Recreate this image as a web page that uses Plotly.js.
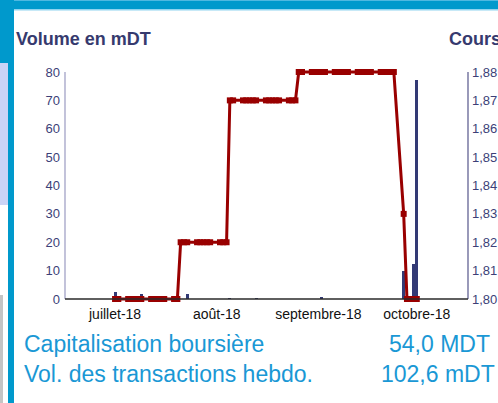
<!DOCTYPE html>
<html><head><meta charset="utf-8">
<script src="https://cdn.plot.ly/plotly-3.0.1.min.js"></script>
<style>html,body{margin:0;padding:0;background:#fff;overflow:hidden}#chart{width:498px;height:403px}</style>
</head><body><div id="chart"></div>
<script>
// ---- data ----
const tradeDates = [
 '2018-07-05','2018-07-06','2018-07-09','2018-07-10','2018-07-11','2018-07-12','2018-07-13',
 '2018-07-16','2018-07-17','2018-07-18','2018-07-19','2018-07-20','2018-07-23','2018-07-24',
 '2018-07-25','2018-07-26','2018-07-27','2018-07-30','2018-07-31','2018-08-01','2018-08-02',
 '2018-08-03','2018-08-06','2018-08-07','2018-08-08',
 '2018-08-09','2018-08-10','2018-08-13','2018-08-14','2018-08-15','2018-08-16','2018-08-17',
 '2018-08-20','2018-08-21','2018-08-22','2018-08-23','2018-08-24','2018-08-27','2018-08-28','2018-08-29',
 '2018-08-30','2018-08-31','2018-09-03','2018-09-04','2018-09-05','2018-09-06','2018-09-07',
 '2018-09-10','2018-09-11','2018-09-12','2018-09-13','2018-09-14','2018-09-17','2018-09-18',
 '2018-09-19','2018-09-20','2018-09-21','2018-09-24','2018-09-25','2018-09-26','2018-09-27','2018-09-28',
 '2018-10-01','2018-10-02','2018-10-03','2018-10-04','2018-10-05'
];
const priceValues = [
 1.80,1.80,1.80,1.80,1.80,1.80,1.80,
 1.80,1.80,1.80,1.80,1.80,1.80,1.80,
 1.82,1.82,1.82,1.82,1.82,1.82,1.82,
 1.82,1.82,1.82,1.82,
 1.87,1.87,1.87,1.87,1.87,1.87,1.87,
 1.87,1.87,1.87,1.87,1.87,1.87,1.87,1.87,
 1.88,1.88,1.88,1.88,1.88,1.88,1.88,
 1.88,1.88,1.88,1.88,1.88,1.88,1.88,
 1.88,1.88,1.88,1.88,1.88,1.88,1.88,1.88,
 1.83,1.80,1.80,1.80,1.80
];
const volumeDates = ['2018-07-05','2018-07-13','2018-07-27','2018-08-09','2018-08-17','2018-09-06','2018-10-01','2018-10-04','2018-10-05'];
const volumeValues = [2.5,1.7,1.8,0.3,0.3,0.6,10.0,12.5,77.2];
const monthTickDates = ['2018-07-05','2018-08-05','2018-09-05','2018-10-05'];
const monthTickLabels = ['juillet-18','août-18','septembre-18','octobre-18'];
const volumeTicks = [0,10,20,30,40,50,60,70,80];
const priceTicks = [1.80,1.81,1.82,1.83,1.84,1.85,1.86,1.87,1.88];
const leftTitle = 'Volume en mDT';
const rightTitle = 'Cours';
const infoLabels = ['Capitalisation boursière','Vol. des transactions hebdo.'];
const infoValues = ['54,0 MDT','102,6 mDT'];

// ---- layout helpers (pixel -> paper) ----
const PL=65, PR=468, PT=69, PB=302;
const fx = x => (x-PL)/(PR-PL);
const fy = y => (PB-y)/(PB-PT);
const FONT = 'Liberation Sans, Arial, sans-serif';
const NAVY = '#363a6e';
const BLUE_TXT = '#1a98d5';

const traces = [
  {type:'bar', x:volumeDates, y:volumeValues, yaxis:'y', marker:{color:'#333a75', line:{width:0}},
   width:77760000, hoverinfo:'skip'},
  {type:'scatter', mode:'lines+markers', x:tradeDates, y:priceValues, yaxis:'y2',
   line:{color:'#990000', width:3},
   marker:{symbol:'square', size:6, color:'#990000', line:{width:0}},
   cliponaxis:false, hoverinfo:'skip'}
];

const rect = (x0,y0,x1,y1,c) => ({type:'rect', xref:'paper', yref:'paper', x0:fx(x0), x1:fx(x1), y0:fy(y1), y1:fy(y0),
  fillcolor:c, line:{width:0}, layer:'below'});
const hline = (x0,x1,y,c,w) => ({type:'line', xref:'paper', yref:'paper', x0:fx(x0), x1:fx(x1), y0:fy(y), y1:fy(y), line:{color:c,width:w}});
const vline = (x,y0,y1,c,w) => ({type:'line', xref:'paper', yref:'paper', x0:fx(x), x1:fx(x), y0:fy(y0), y1:fy(y1), line:{color:c,width:w}});

const shapes = [
  rect(0,0,498,10,'#0099cc'),
  rect(0,0,498,1,'#4fb8e0'),
  rect(14,9,498,10.5,'#8fd3ef'),
  rect(0,0,14,63,'#0099cc'),
  rect(8,0,14,403,'#0099cc'),
  rect(0,63,8,205,'#cbd4f6'),
  rect(0,295,3,403,'#c4c4c4'),
  vline(65,299,72,'#9a9ac2',1.2),
  vline(468,299,72,'#56568a',1.2),
  hline(65,468,299,'#2a2a2a',1.6)
];

const ann = (text,x,y,xa,size,color,bold) => ({text: bold?('<b>'+text+'</b>'):text, xref:'paper', yref:'paper',
  x:fx(x), y:fy(y), xanchor:xa, yanchor:'middle', showarrow:false, font:{family:FONT,size:size,color:color}});

const annotations = [
  ann(leftTitle,14,38.7,'left',18,NAVY,true),
  ann(rightTitle,447,38.7,'left',18,NAVY,true),
  ann(infoLabels[0],21.5,343.7,'left',23,BLUE_TXT,false),
  ann(infoValues[0],491.5,343.7,'right',23,BLUE_TXT,false),
  ann(infoLabels[1],21.5,373.7,'left',23,BLUE_TXT,false),
  ann(infoValues[1],496.5,373.7,'right',23,BLUE_TXT,false)
];

const layout = {
  width:498, height:403, margin:{l:PL, r:498-PR, t:PT, b:403-PB, pad:0},
  paper_bgcolor:'#ffffff', plot_bgcolor:'rgba(0,0,0,0)',
  separators:', ', showlegend:false, bargap:0,
  font:{family:FONT},
  xaxis:{type:'date', range:['2018-06-19 17:45','2018-10-20 14:38'], tickvals:monthTickDates, ticktext:monthTickLabels,
    showgrid:false, zeroline:false, showline:false, ticks:'', ticklabelstandoff:2,
    tickfont:{family:FONT,size:14,color:'#111111'}},
  yaxis:{range:[-1.0573,81.0573], tickvals:volumeTicks, showgrid:false, zeroline:false, showline:false,
    ticks:'', ticklabelstandoff:4, tickfont:{family:FONT,size:13,color:'#3c3f78'}},
  yaxis2:{overlaying:'y', side:'right', range:[1.798943,1.881057], tickvals:priceTicks, tickformat:'.2f',
    showgrid:false, zeroline:false, showline:false, ticks:'', ticklabelstandoff:3,
    tickfont:{family:FONT,size:13,color:'#3c3f78'}},
  shapes:shapes, annotations:annotations
};

Plotly.newPlot('chart', traces, layout, {staticPlot:true, displayModeBar:false});
</script></body></html>
